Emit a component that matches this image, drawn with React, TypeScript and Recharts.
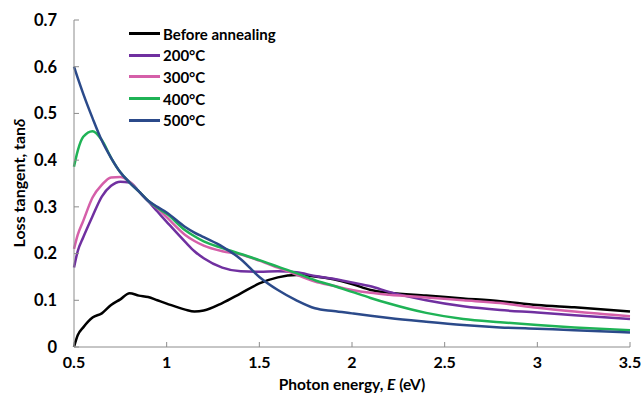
import { LineChart, Line, XAxis, YAxis, Legend, Label } from "recharts";

const energy = [0.5, 0.52, 0.55, 0.6, 0.65, 0.7, 0.75, 0.8, 0.85, 0.9, 0.95, 1.0, 1.1, 1.15, 1.2, 1.3, 1.4, 1.5, 1.6, 1.7, 1.8, 1.9, 2.0, 2.1, 2.2, 2.4, 2.6, 2.8, 3.0, 3.2, 3.5];

const beforeAnnealing = [0.0, 0.025, 0.042, 0.063, 0.072, 0.09, 0.102, 0.115, 0.11, 0.107, 0.1, 0.093, 0.08, 0.076, 0.078, 0.094, 0.115, 0.136, 0.149, 0.154, 0.151, 0.145, 0.135, 0.122, 0.116, 0.11, 0.104, 0.098, 0.09, 0.085, 0.076];
const t200 = [0.17, 0.205, 0.235, 0.28, 0.322, 0.345, 0.354, 0.352, 0.333, 0.312, 0.29, 0.268, 0.225, 0.205, 0.19, 0.17, 0.162, 0.161, 0.162, 0.16, 0.152, 0.146, 0.138, 0.13, 0.118, 0.1, 0.087, 0.079, 0.074, 0.068, 0.06];
const t300 = [0.21, 0.24, 0.27, 0.32, 0.347, 0.363, 0.364, 0.354, 0.333, 0.313, 0.297, 0.278, 0.24, 0.227, 0.217, 0.205, 0.198, 0.185, 0.17, 0.155, 0.14, 0.131, 0.122, 0.116, 0.112, 0.106, 0.1, 0.094, 0.084, 0.076, 0.066];
const t400 = [0.386, 0.42, 0.45, 0.462, 0.443, 0.405, 0.374, 0.352, 0.333, 0.313, 0.298, 0.285, 0.25, 0.237, 0.226, 0.212, 0.199, 0.186, 0.172, 0.158, 0.143, 0.131, 0.118, 0.105, 0.093, 0.073, 0.06, 0.053, 0.047, 0.042, 0.036];
const t500 = [0.6, 0.576, 0.542, 0.49, 0.442, 0.405, 0.374, 0.352, 0.333, 0.313, 0.3, 0.288, 0.257, 0.245, 0.235, 0.215, 0.188, 0.15, 0.122, 0.1, 0.083, 0.077, 0.072, 0.067, 0.062, 0.054, 0.047, 0.042, 0.039, 0.036, 0.031];

const xTicks = [0.5, 1, 1.5, 2, 2.5, 3, 3.5];
const yTicks = [0, 0.1, 0.2, 0.3, 0.4, 0.5, 0.6, 0.7];

const seriesNames = ["Before annealing", "200°C", "300°C", "400°C", "500°C"];
const seriesColors = ["#000000", "#7030a0", "#d55fa9", "#1fb356", "#2b4a8a"];
const seriesKeys = ["b", "t200", "t300", "t400", "t500"];

const data = energy.map((e, i) => ({
  e,
  b: beforeAnnealing[i],
  t200: t200[i],
  t300: t300[i],
  t400: t400[i],
  t500: t500[i],
}));

const FONT = "Lato, 'Open Sans', sans-serif";

const LegendBox = () => (
  <div style={{ fontFamily: FONT, fontWeight: 700, fontSize: 15, color: "#000" }}>
    {seriesNames.map((n, i) => (
      <div key={n} style={{ display: "flex", alignItems: "center", height: 21.6 }}>
        <div style={{ width: 31, height: 3, background: seriesColors[i], marginRight: 3 }} />
        <span>{n}</span>
      </div>
    ))}
  </div>
);

export default function App() {
  return (
    <div style={{ position: "absolute", left: 0, top: 0, width: 643, height: 394, background: "#fff" }}>
      <LineChart
        width={643}
        height={394}
        data={data}
        margin={{ top: 20, right: 13, bottom: 7, left: 14 }}
      >
        <XAxis
          dataKey="e"
          type="number"
          domain={[0.5, 3.5]}
          ticks={xTicks}
          height={40}
          stroke="#8c8c8c"
          tickSize={-5}
          tickMargin={15}
          tick={{ fill: "#000", fontFamily: FONT, fontWeight: 700, fontSize: 16 }}
        >
          <Label
            content={() => (
              <text x={352} y={390} textAnchor="middle" fontFamily={FONT} fontWeight={700} fontSize={15.5} fill="#000">
                Photon energy, <tspan fontStyle="italic">E</tspan> (eV)
              </text>
            )}
          />
        </XAxis>
        <YAxis
          type="number"
          domain={[0, 0.7]}
          ticks={yTicks}
          width={60}
          stroke="#8c8c8c"
          tickSize={-5}
          tickMargin={22}
          tickFormatter={(v: number) => String(v)}
          tick={{ fill: "#000", fontFamily: FONT, fontWeight: 700, fontSize: 16.5 }}
        >
          <Label
            content={() => (
              <text
                x={25}
                y={183}
                transform="rotate(-90 25 183)"
                textAnchor="middle"
                fontFamily={FONT}
                fontWeight={700}
                fontSize={16}
                fill="#000"
              >
                Loss tangent, tan<tspan fontStyle="italic">δ</tspan>
              </text>
            )}
          />
        </YAxis>
        <Legend
          layout="vertical"
          align="center"
          verticalAlign="middle"
          content={() => <LegendBox />}
          wrapperStyle={{ left: 129, top: 23, width: "auto" }}
        />
        {seriesKeys.map((k, i) => (
          <Line
            key={k}
            dataKey={k}
            name={seriesNames[i]}
            type="monotone"
            stroke={seriesColors[i]}
            strokeWidth={2.5}
            dot={false}
            isAnimationActive={false}
          />
        ))}
      </LineChart>
    </div>
  );
}
